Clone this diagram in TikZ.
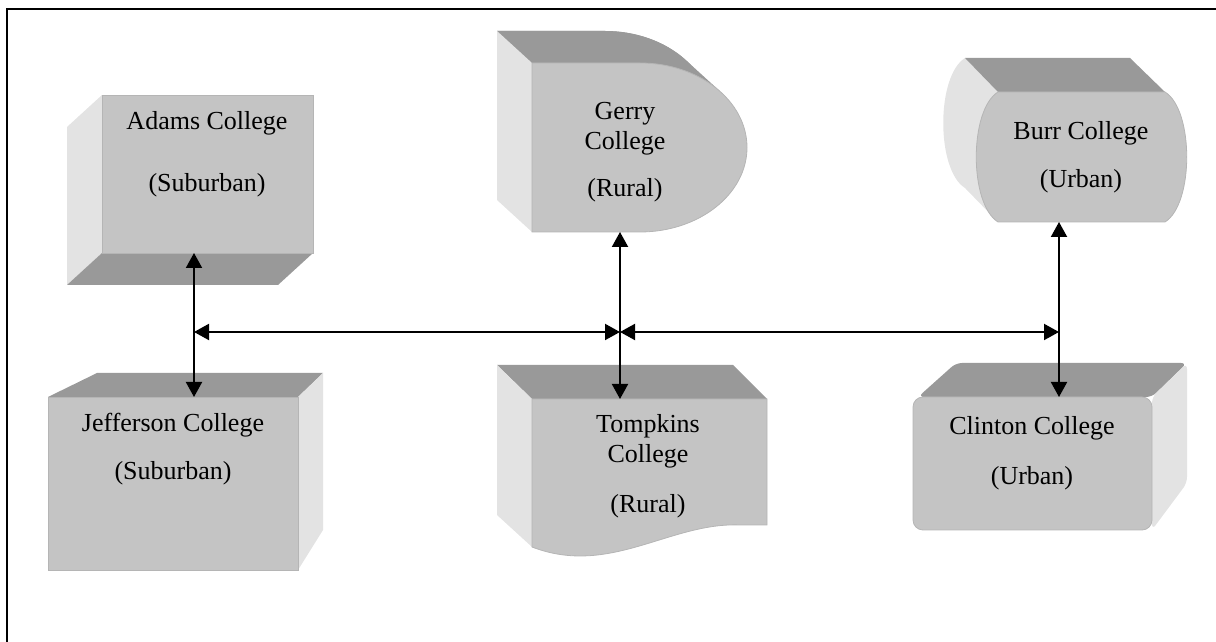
\documentclass[tikz,border=0pt]{standalone}
\usepackage{fontspec}
\setmainfont{Liberation Serif}
\usetikzlibrary{arrows.meta}
\definecolor{frontgray}{gray}{0.77}
\definecolor{sidegray}{gray}{0.89}
\definecolor{topgray}{gray}{0.60}
\tikzset{
  front/.style={fill=frontgray,draw=frontgray!92!black,line width=0.8pt},
  side/.style={fill=sidegray},
  topside/.style={fill=topgray},
  label/.style={anchor=base,inner sep=0pt,font=\fontsize{26}{30}\selectfont},
  link/.style={{Triangle[length=15pt,width=16pt]}-{Triangle[length=15pt,width=16pt]},line width=2pt}
}
\begin{document}
\begin{tikzpicture}[x=1pt,y=1pt]
  \useasboundingbox (0,0) rectangle (1216,642);
  \draw[line width=2pt] (7,0) -- (7,633) -- (1216,633);
  % Adams: box seen from below left
  \fill[side] (102,547) -- (67,515) -- (67,357) -- (102,389) -- cycle;
  \fill[topside] (102,389) -- (313,389) -- (278,357) -- (67,357) -- cycle;
  \draw[front] (102,389) rectangle (313,547);
  \node[label] (adams-name) at (207,512) {Adams College};
  \node[label] (adams-type) at (207,450) {(Suburban)};
  % Jefferson: box seen from above right
  \fill[topside] (48,245) -- (97,269) -- (323,269) -- (298,245) -- cycle;
  \fill[side] (298,245) -- (323,269) -- (323,112) -- (298,72) -- cycle;
  \draw[front] (48,72) rectangle (298,245);
  \node[label] (jeff-name) at (173,210) {Jefferson College};
  \node[label] (jeff-type) at (173,162) {(Suburban)};
  % Gerry: delay shape
  \fill[topside] (497,611) -- (605,611) arc[start angle=90,end angle=-90,x radius=107,y radius=84.5] -- (497,442) -- cycle;
  \fill[topside] (497,611) -- (605,611) arc[start angle=90,end angle=41.7,x radius=107,y radius=84.5]
    -- (720,550.7) arc[start angle=41.7,end angle=90,x radius=107,y radius=84.5] -- (532,579) -- cycle;
  \fill[side] (532,579) -- (497,611) -- (497,442) -- (532,410) -- cycle;
  \draw[front] (532,579) -- (640,579) arc[start angle=90,end angle=-90,x radius=107,y radius=84.5] -- (532,410) -- cycle;
  \node[label] (gerry-name) at (625,522) {Gerry};
  \node[label] (gerry-name2) at (625,492) {College};
  \node[label] (gerry-type) at (625,445) {(Rural)};
  % Tompkins: document shape
  \fill[topside] (532,243) -- (497,277) -- (733,277) -- (767,243) -- cycle;
  \fill[side] (532,243) -- (497,277) -- (497,127) -- (532,95) -- cycle;
  \draw[front] (532,243) -- (767,243) -- (767,117) -- (740,117)
    .. controls (670,120) and (610,65) .. (532,95) -- cycle;
  \node[label] (tomp-name) at (648,209) {Tompkins};
  \node[label] (tomp-name2) at (648,179) {College};
  \node[label] (tomp-type) at (648,129) {(Rural)};
  % Burr: bulged sides
  \fill[side] (965,584) .. controls (936,566) and (936,472) .. (965,454) -- (998,420) -- (998,550) -- cycle;
  \fill[topside] (965,584) -- (1130,584) -- (1165,550) -- (998,550) -- cycle;
  \draw[front] (998,550) -- (1165,550) .. controls (1194,532) and (1194,438) .. (1165,420)
    -- (998,420) .. controls (969,438) and (969,532) .. (998,550) -- cycle;
  \node[label] (burr-name) at (1081,502) {Burr College};
  \node[label] (burr-type) at (1081,454) {(Urban)};
  % Clinton: rounded box
  \fill[topside,rounded corners=6pt] (918,245) -- (956,279) -- (1187,279) -- (1152,245) -- cycle;
  \fill[side,rounded corners=6pt] (1152,245) -- (1187,279) -- (1187,159) -- (1152,112) -- cycle;
  \draw[front,rounded corners=10pt] (913,112) rectangle (1152,245);
  \node[label] (clint-name) at (1032,207) {Clinton College};
  \node[label] (clint-type) at (1032,157) {(Urban)};
  % connector ends
  \coordinate (adams-s) at (194,389);
  \coordinate (jeff-n) at (194,245);
  \coordinate (gerry-s) at (620,410);
  \coordinate (tomp-n) at (620,243);
  \coordinate (burr-s) at (1059,420);
  \coordinate (clint-n) at (1059,245);
  \coordinate (bus-l) at (194,310);
  \coordinate (bus-m) at (620,310);
  \coordinate (bus-r) at (1059,310);
  \draw[link] (adams-s) -- (jeff-n);
  \draw[link] (gerry-s) -- (tomp-n);
  \draw[link] (burr-s) -- (clint-n);
  \draw[link] (bus-l) -- (bus-m);
  \draw[link] (bus-m) -- (bus-r);
\end{tikzpicture}
\end{document}
